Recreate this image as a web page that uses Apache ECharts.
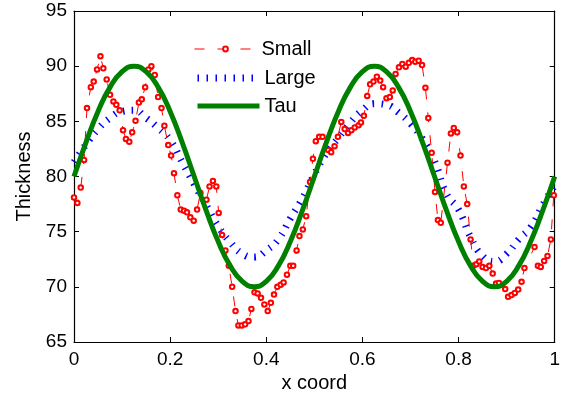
<!DOCTYPE html>
<html><head><meta charset="utf-8">
<script src="https://cdn.jsdelivr.net/npm/echarts@6/dist/echarts.min.js"></script>
<style>html,body{margin:0;padding:0;background:#fff}#c{width:563px;height:403px}</style>
</head><body><div id="c"></div>
<script>
// Small series: [x, thickness]
const smallX = [0.000,0.007,0.014,0.021,0.027,0.035,0.041,0.048,0.055,0.061,0.068,0.075,0.082,0.088,0.095,0.102,0.108,0.115,0.121,0.128,0.135,0.141,0.148,0.155,0.161,0.168,0.175,0.182,0.188,0.196,0.202,0.208,0.215,0.222,0.229,0.235,0.242,0.249,0.256,0.263,0.2755,0.282,0.289,0.296,0.301,0.308,0.315,0.322,0.329,0.336,0.342,0.349,0.356,0.363,0.369,0.3755,0.382,0.389,0.396,0.403,0.4095,0.416,0.423,0.430,0.436,0.443,0.450,0.456,0.463,0.469,0.476,0.483,0.491,0.497,0.503,0.510,0.517,0.529,0.535,0.542,0.549,0.556,0.563,0.570,0.577,0.584,0.592,0.597,0.603,0.610,0.616,0.623,0.630,0.637,0.643,0.650,0.657,0.663,0.669,0.676,0.683,0.690,0.6965,0.7035,0.710,0.717,0.724,0.731,0.737,0.744,0.751,0.757,0.763,0.777,0.784,0.790,0.797,0.804,0.811,0.818,0.825,0.831,0.837,0.843,0.850,0.857,0.864,0.871,0.878,0.884,0.897,0.903,0.910,0.917,0.924,0.931,0.937,0.958,0.965,0.971,0.978,0.985,0.992,0.998];
const smallY = [78.1,77.6,79.0,81.5,86.2,88.1,88.6,89.7,90.9,89.8,88.8,87.4,86.8,86.5,86.0,84.2,83.4,83.15,84.0,85.05,86.7,87.0,88.1,89.7,90.0,89.2,87.2,86.2,84.6,82.85,81.9,80.3,78.3,77.0,76.9,76.75,76.3,76.0,77.0,78.5,77.9,79.1,79.6,79.1,76.7,74.7,73.3,71.9,70.0,67.8,66.5,66.5,66.6,66.9,68.0,69.5,69.4,69.0,68.4,67.8,68.55,69.3,70.0,70.2,70.4,71.1,71.9,71.9,73.3,74.6,75.2,76.4,79.5,81.6,83.2,83.6,83.6,82.4,82.2,82.75,83.6,84.95,84.3,83.95,84.2,84.45,84.65,84.9,85.5,87.3,88.35,88.6,89.05,88.7,88.1,87.1,87.2,87.8,89.3,89.9,90.2,89.95,90.3,90.55,90.4,90.5,90.1,88.05,85.3,82.15,78.6,76.05,75.8,81.25,83.9,84.4,84.0,81.9,79.1,77.5,74.3,71.9,72.05,72.3,71.8,71.7,71.9,71.2,70.3,70.35,69.8,69.1,69.25,69.45,69.75,70.45,71.7,73.6,71.9,71.8,72.35,72.8,74.3,78.3];

// Large and Tau series sampled at these x positions
const curveX = [0,0.025,0.05,0.075,0.1,0.125,0.15,0.175,0.2,0.225,0.25,0.275,0.3,0.325,0.35,0.375,0.4,0.425,0.45,0.475,0.5,0.525,0.55,0.575,0.6,0.625,0.65,0.675,0.7,0.725,0.75,0.775,0.8,0.825,0.85,0.875,0.9,0.925,0.95,0.975,1];
const largeY = [81.3,82.9,84.3,85.3,85.9,86.0,85.3,84.4,83.3,81.3,79.3,77.4,75.5,74.05,73.0,72.7,73.3,74.3,76.2,78.0,80.2,82.1,83.5,84.9,86.0,86.6,86.5,85.8,84.8,83.4,81.4,78.4,77.0,74.5,72.8,72.3,73.0,74.3,75.4,77.4,79.2];
const tauY = [80,83.1,85.9,88.1,89.5,90,89.5,88.1,85.9,83.1,80,76.9,74.1,71.9,70.5,70,70.5,71.9,74.1,76.9,80,83.1,85.9,88.1,89.5,90,89.5,88.1,85.9,83.1,80,76.9,74.1,71.9,70.5,70,70.5,71.9,74.1,76.9,80];

const seriesNames = ['Small','Large','Tau'];
const xTicks = [0,0.2,0.4,0.6,0.8,1];
const yTicks = [65,70,75,80,85,90,95];

const zip = (a,b)=>a.map((v,i)=>[v,b[i]]);
const FONT = 'Liberation Sans, Arial, sans-serif';
const chart = echarts.init(document.getElementById('c'), null, {renderer:'canvas'});
const axisCommon = {
  axisLine:{show:true,onZero:false,lineStyle:{color:'#000',width:1.2}},
  axisTick:{show:true,inside:true,length:5,lineStyle:{color:'#000',width:1}},
  splitLine:{show:false}
};
const hidden = {color:'rgba(0,0,0,0)',borderColor:'rgba(0,0,0,0)',borderWidth:0};
const legendText = {fontFamily:FONT,fontSize:20,color:'#000'};
const LARGE_DASH = [1.5,7.5];
chart.setOption({
  animation:false,
  backgroundColor:'#fff',
  grid:{left:74,right:1,top:11,bottom:61},
  legend:[
    {orient:'vertical', left:189, top:34, itemWidth:62, itemHeight:6, itemGap:8,
     textStyle:legendText,
     data:[{name:seriesNames[0],lineStyle:{width:1}}]},
    {orient:'vertical', left:189, top:63, itemWidth:62, itemHeight:14, itemGap:8,
     textStyle:legendText,
     data:[
       {name:seriesNames[1],itemStyle:hidden,lineStyle:{width:7,type:LARGE_DASH,cap:'butt'}},
       {name:seriesNames[2],itemStyle:hidden,lineStyle:{width:5}}
     ]}
  ],
  xAxis:[
    Object.assign({type:'value',min:xTicks[0],max:xTicks[xTicks.length-1],interval:0.2,position:'bottom',
      name:'x coord',nameLocation:'middle',nameGap:31,
      nameTextStyle:{fontFamily:FONT,fontSize:20,color:'#000'},
      axisLabel:{fontFamily:FONT,fontSize:19,color:'#000',margin:8}},axisCommon),
    Object.assign({type:'value',min:0,max:1,interval:0.2,position:'top',axisLabel:{show:false}},axisCommon)
  ],
  yAxis:[
    Object.assign({type:'value',min:yTicks[0],max:yTicks[yTicks.length-1],interval:5,position:'left',
      name:'Thickness',nameLocation:'middle',nameGap:38,
      nameTextStyle:{fontFamily:FONT,fontSize:20,color:'#000'},
      axisLabel:{fontFamily:FONT,fontSize:19,color:'#000',margin:7}},axisCommon),
    Object.assign({type:'value',min:65,max:95,interval:5,position:'right',axisLabel:{show:false}},axisCommon)
  ],
  series:[
    {name:'Small',type:'line',data:zip(smallX,smallY),z:3,
     symbol:'emptyCircle',symbolSize:4.5,
     itemStyle:{color:'#ff0000',borderColor:'#ff0000',borderWidth:1},
     lineStyle:{color:'#ff0000',width:1,type:[10,13]}},
    {name:'Large',type:'line',data:zip(curveX,largeY),smooth:true,symbol:'none',z:2,
     itemStyle:{color:'#0000ff'},
     lineStyle:{color:'#0000ff',width:7,type:LARGE_DASH,cap:'butt'}},
    {name:'Tau',type:'line',data:zip(curveX,tauY),smooth:true,symbol:'none',z:4,
     itemStyle:{color:'#008000'},
     lineStyle:{color:'#008000',width:5}}
  ]
});
</script></body></html>
